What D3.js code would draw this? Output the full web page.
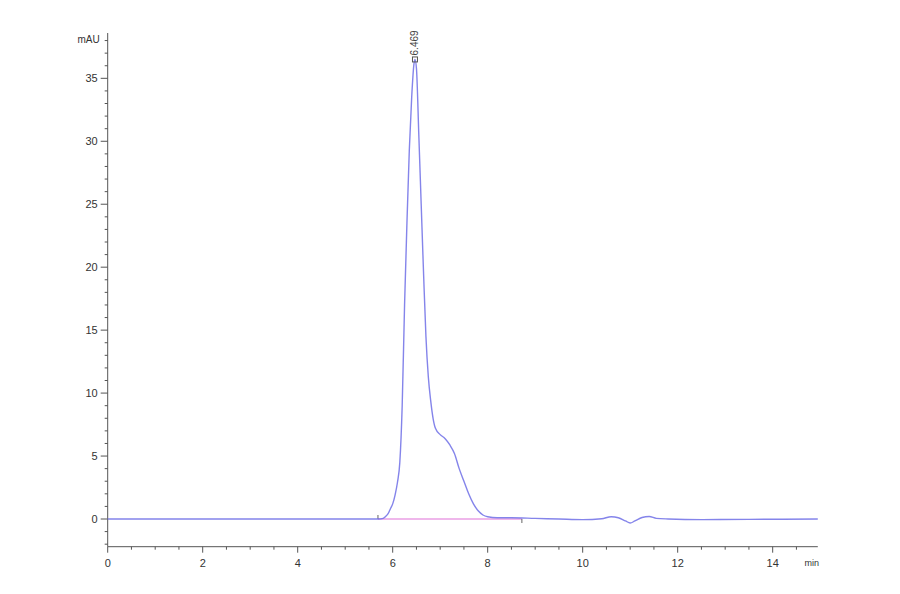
<!DOCTYPE html>
<html>
<head>
<meta charset="utf-8">
<script src="https://cdn.jsdelivr.net/npm/d3@7"></script>
<style>
  body { margin: 0; background: #fff; }
  text { font-family: "Liberation Sans", Arial, sans-serif; }
</style>
</head>
<body>
<svg id="chart"></svg>
<script>
// retention time (min) and signal (mAU)
const times = [0, 2, 4, 5.5, 5.7, 5.8, 5.85, 5.9, 5.95, 6.0, 6.05, 6.1, 6.15, 6.2, 6.25, 6.3, 6.35, 6.4, 6.45, 6.469,
  6.5, 6.55, 6.6, 6.65, 6.7, 6.75, 6.8, 6.85, 6.9, 7.0, 7.1, 7.2, 7.3, 7.4, 7.5, 7.6, 7.7, 7.8, 7.9, 8.0, 8.2, 8.5,
  9.0, 9.5, 10.0, 10.4, 10.6, 10.75, 10.9, 11.0, 11.1, 11.25, 11.4, 11.55, 11.8, 12.5, 13.5, 14.95];
const signal = [0, 0, 0, 0, 0, 0.05, 0.2, 0.4, 0.8, 1.2, 1.9, 2.9, 4.5, 9, 17, 23.5, 29.3, 33.5, 36.2, 36.5,
  35.8, 30.5, 25, 19.5, 14.5, 11.3, 9.4, 8.0, 7.2, 6.7, 6.4, 5.9, 5.2, 4.0, 3.0, 2.0, 1.2, 0.65, 0.32, 0.18, 0.1, 0.1,
  0.05, 0, -0.05, 0.02, 0.18, 0.1, -0.15, -0.32, -0.15, 0.12, 0.2, 0.05, 0, -0.05, -0.03, 0];
const xTicks = [0, 2, 4, 6, 8, 10, 12, 14];
const yTicks = [0, 5, 10, 15, 20, 25, 30, 35];
const peakLabel = "6.469";
const peakTime = 6.469;
const peakValue = 36.5;
const baselineStart = 5.69;
const baselineEnd = 8.72;

const width = 900, height = 594;
const svg = d3.select("#chart").attr("width", width).attr("height", height);

const x = d3.scaleLinear().domain([0, 14.95]).range([107.7, 817.8]);
const y = d3.scaleLinear().domain([-2.2, 38.6]).range([546.7, 33]);

const axisColor = "#555";

// y axis
svg.append("line")
  .attr("x1", x(0)).attr("x2", x(0))
  .attr("y1", y(38.6)).attr("y2", y(-2.2))
  .attr("stroke", axisColor).attr("stroke-width", 1);

const yMinor = d3.range(-2, 39, 1).filter((d) => d % 5 !== 0);
svg.selectAll(".y-minor").data(yMinor).join("line")
  .attr("class", "y-minor")
  .attr("x1", x(0) - 3).attr("x2", x(0))
  .attr("y1", (d) => y(d)).attr("y2", (d) => y(d))
  .attr("stroke", axisColor).attr("stroke-width", 1);

svg.selectAll(".y-major").data(yTicks).join("line")
  .attr("class", "y-major")
  .attr("x1", x(0) - 7).attr("x2", x(0))
  .attr("y1", (d) => y(d)).attr("y2", (d) => y(d))
  .attr("stroke", axisColor).attr("stroke-width", 1);

svg.selectAll(".y-label").data(yTicks).join("text")
  .attr("class", "y-label")
  .attr("x", x(0) - 10).attr("y", (d) => y(d))
  .attr("dy", "0.35em")
  .attr("text-anchor", "end")
  .attr("font-size", 11)
  .attr("fill", "#333")
  .text((d) => d);

svg.append("text")
  .attr("x", x(0) - 8).attr("y", 43)
  .attr("text-anchor", "end")
  .attr("font-size", 10)
  .attr("fill", "#333")
  .text("mAU");

// x axis
svg.append("line")
  .attr("x1", x(0)).attr("x2", x(14.95))
  .attr("y1", y(-2.2)).attr("y2", y(-2.2))
  .attr("stroke", axisColor).attr("stroke-width", 1);

const xMinor = d3.range(0.5, 15, 0.5).filter((d) => d % 2 !== 0);
svg.selectAll(".x-minor").data(xMinor).join("line")
  .attr("class", "x-minor")
  .attr("x1", (d) => x(d)).attr("x2", (d) => x(d))
  .attr("y1", y(-2.2)).attr("y2", y(-2.2) + 3)
  .attr("stroke", axisColor).attr("stroke-width", 1);

svg.selectAll(".x-major").data(xTicks).join("line")
  .attr("class", "x-major")
  .attr("x1", (d) => x(d)).attr("x2", (d) => x(d))
  .attr("y1", y(-2.2)).attr("y2", y(-2.2) + 6)
  .attr("stroke", axisColor).attr("stroke-width", 1);

svg.selectAll(".x-label").data(xTicks).join("text")
  .attr("class", "x-label")
  .attr("x", (d) => x(d)).attr("y", 567)
  .attr("text-anchor", "middle")
  .attr("font-size", 11)
  .attr("fill", "#333")
  .text((d) => d);

svg.append("text")
  .attr("x", 819).attr("y", 566)
  .attr("text-anchor", "end")
  .attr("font-size", 9)
  .attr("fill", "#333")
  .text("min");

// integration baseline
svg.append("line")
  .attr("x1", x(baselineStart)).attr("x2", x(baselineEnd))
  .attr("y1", y(0)).attr("y2", y(0))
  .attr("stroke", "#e070d8").attr("stroke-width", 1.2);
svg.append("line")
  .attr("x1", x(baselineStart)).attr("x2", x(baselineStart))
  .attr("y1", y(0) - 4).attr("y2", y(0))
  .attr("stroke", "#666").attr("stroke-width", 1);
svg.append("line")
  .attr("x1", x(baselineEnd)).attr("x2", x(baselineEnd))
  .attr("y1", y(0)).attr("y2", y(0) + 4)
  .attr("stroke", "#666").attr("stroke-width", 1);

// trace
const points = times.map((t, i) => [t, signal[i]]);
const line = d3.line()
  .x((d) => x(d[0]))
  .y((d) => y(d[1]))
  .curve(d3.curveMonotoneX);

svg.append("path")
  .datum(points)
  .attr("fill", "none")
  .attr("stroke", "#6f6fe6")
  .attr("stroke-width", 1.4)
  .attr("stroke-opacity", 0.85)
  .attr("d", line);

// peak marker and label
svg.append("rect")
  .attr("x", x(peakTime) - 2.5).attr("y", y(peakValue) - 2.5)
  .attr("width", 5).attr("height", 5)
  .attr("fill", "none")
  .attr("stroke", "#555").attr("stroke-width", 1);

svg.append("text")
  .attr("transform", `translate(${x(peakTime) + 3.5}, ${y(peakValue) - 4}) rotate(-90)`)
  .attr("font-size", 10)
  .attr("fill", "#444")
  .text(peakLabel);
</script>
</body>
</html>
